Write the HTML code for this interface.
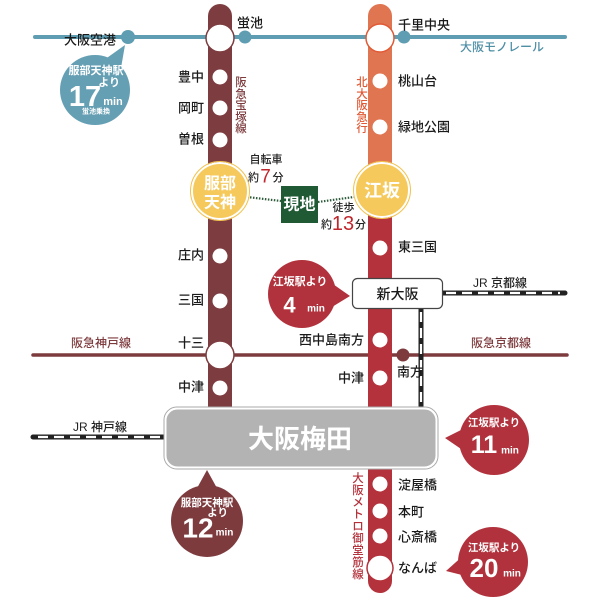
<!DOCTYPE html>
<html><head><meta charset="utf-8"><style>
html,body{margin:0;padding:0;background:#fff;}
svg{display:block;}
text{font-family:"Liberation Sans","Noto Sans CJK JP",sans-serif;}
.st{font-size:13px;font-weight:500;fill:#1a1a1a;}
.w{fill:#fff;font-weight:bold;}
</style></head><body>
<svg width="600" height="600" viewBox="0 0 600 600" xmlns="http://www.w3.org/2000/svg">
<rect width="600" height="600" fill="#fff"/>
<!-- monorail -->
<line x1="35" y1="37" x2="565" y2="37" stroke="#5f9db2" stroke-width="4" stroke-linecap="round"/>
<!-- hankyu kobe/kyoto -->
<line x1="33" y1="355" x2="567" y2="355" stroke="#7d3b3e" stroke-width="3.5" stroke-linecap="round"/>
<!-- JR kobe -->
<line x1="33" y1="437" x2="166" y2="437" stroke="#222" stroke-width="5" stroke-linecap="round"/>
<line x1="38" y1="437" x2="166" y2="437" stroke="#fff" stroke-width="2.2" stroke-dasharray="10 6"/>
<!-- JR kyoto -->
<line x1="443" y1="293" x2="565" y2="293" stroke="#222" stroke-width="5" stroke-linecap="round"/>
<line x1="446" y1="293" x2="560" y2="293" stroke="#fff" stroke-width="2.2" stroke-dasharray="10 6"/>
<line x1="421" y1="306" x2="421" y2="408" stroke="#222" stroke-width="5"/>
<line x1="421" y1="312" x2="421" y2="408" stroke="#fff" stroke-width="2.2" stroke-dasharray="10 6"/>
<!-- left line -->
<path d="M208 420 V16 A12 12 0 0 1 232 16 V420 Z" fill="#7d3d40"/>
<!-- right line -->
<path d="M368 190 V16 A12 12 0 0 1 392 16 V190 Z" fill="#e07552"/>
<path d="M368 190 V581 A12 12 0 0 0 392 581 V190 Z" fill="#b3323c"/>

<!-- monorail dots -->
<circle cx="128" cy="37" r="7" fill="#5f9db2"/>
<circle cx="245" cy="37" r="6.5" fill="#5f9db2"/>
<circle cx="404" cy="37" r="6.5" fill="#5f9db2"/>
<circle cx="403" cy="355" r="6.5" fill="#7d3b3e"/>

<!-- big station circles -->
<circle cx="220" cy="38" r="14" fill="#fff" stroke="#7d3d40" stroke-width="1.5"/>
<circle cx="380" cy="38" r="14" fill="#fff" stroke="#e05a35" stroke-width="1.5"/>
<circle cx="220" cy="355" r="14" fill="#fff" stroke="#7d3d40" stroke-width="1.5"/>
<circle cx="380" cy="568" r="13" fill="#fff" stroke="#b3323c" stroke-width="1.5"/>

<!-- small station circles -->
<g fill="#fff">
<circle cx="220" cy="77" r="7.5"/><circle cx="220" cy="108" r="7.5"/><circle cx="220" cy="140" r="7.5"/>
<circle cx="220" cy="256" r="7.5"/><circle cx="220" cy="301" r="7.5"/><circle cx="220" cy="388" r="7.5"/>
<circle cx="380" cy="81" r="7.5"/><circle cx="380" cy="127" r="7.5"/><circle cx="380" cy="248" r="7.5"/>
<circle cx="380" cy="340" r="7.5"/><circle cx="380" cy="378" r="7.5"/>
<circle cx="380" cy="484" r="7.5"/><circle cx="380" cy="511" r="7.5"/><circle cx="380" cy="536" r="7.5"/>
</g>

<!-- dotted connectors -->
<line x1="247" y1="197" x2="281" y2="201" stroke="#2d5a3a" stroke-width="2.2" stroke-dasharray="1.5 1.5"/>
<line x1="318" y1="202" x2="354" y2="197" stroke="#2d5a3a" stroke-width="2.2" stroke-dasharray="1.5 1.5"/>

<!-- yellow circles -->
<circle cx="220" cy="191" r="28" fill="#f5c95c" stroke="#fff" stroke-width="2"/>
<circle cx="220" cy="191" r="29.5" fill="none" stroke="#f2c24e" stroke-width="1"/>
<circle cx="382" cy="190" r="27" fill="#f5c95c" stroke="#fff" stroke-width="2"/>
<circle cx="382" cy="190" r="28.5" fill="none" stroke="#f2c24e" stroke-width="1"/>
<text x="220" y="184" class="w" font-size="16" text-anchor="middle" dominant-baseline="central">服部</text>
<text x="220" y="203" class="w" font-size="16" text-anchor="middle" dominant-baseline="central">天神</text>
<text x="382" y="191" class="w" font-size="18" text-anchor="middle" dominant-baseline="central">江坂</text>

<!-- genchi -->
<rect x="281" y="186" width="37" height="37" fill="#1f5a35"/>
<text x="299.5" y="205" class="w" font-size="16" text-anchor="middle" dominant-baseline="central">現地</text>

<!-- Umeda box -->
<rect x="164" y="407" width="274" height="62" rx="13" fill="none" stroke="#a8a8a8" stroke-width="1"/>
<rect x="165.5" y="408.5" width="271" height="59" rx="12" fill="#b3b3b3" stroke="#fff" stroke-width="2"/>
<text x="300" y="439" class="w" font-size="26" text-anchor="middle" dominant-baseline="central">大阪梅田</text>

<!-- Shin-Osaka box -->
<rect x="352.5" y="278.5" width="90" height="30" rx="5" fill="#fff" stroke="#444" stroke-width="1.2"/>
<text x="397.5" y="294" font-size="14" font-weight="500" fill="#1a1a1a" text-anchor="middle" dominant-baseline="central">新大阪</text>

<!-- bubbles -->
<g fill="#659fb3">
<circle cx="95" cy="90" r="35"/>
<polygon points="104,60 125,45 121,68"/>
</g>
<text x="96" y="71" class="w" font-size="11" text-anchor="middle" dominant-baseline="central">服部天神駅</text>
<text x="120" y="83" class="w" font-size="11" text-anchor="end" dominant-baseline="central">より</text>
<text x="85" y="97" class="w" font-size="29" text-anchor="middle" dominant-baseline="central">17</text>
<text x="113" y="102" class="w" font-size="11" text-anchor="middle" dominant-baseline="central">min</text>
<text x="96" y="112" class="w" font-size="7" text-anchor="middle" dominant-baseline="central">蛍池乗換</text>

<g fill="#b1323c">
<circle cx="302" cy="294" r="34"/>
<polygon points="330,282 350,296 332,307"/>
</g>
<text x="300" y="282" class="w" font-size="11" text-anchor="middle" dominant-baseline="central">江坂駅より</text>
<text x="289.5" y="305" class="w" font-size="22" text-anchor="middle" dominant-baseline="central">4</text>
<text x="316" y="309" class="w" font-size="10" text-anchor="middle" dominant-baseline="central">min</text>

<g fill="#b1323c">
<circle cx="494" cy="440" r="35"/>
<polygon points="465,428 445,438 464,451"/>
</g>
<text x="494" y="423" class="w" font-size="10.5" text-anchor="middle" dominant-baseline="central">江坂駅より</text>
<text x="484" y="445" class="w" font-size="25" text-anchor="middle" dominant-baseline="central">11</text>
<text x="510" y="451" class="w" font-size="10" text-anchor="middle" dominant-baseline="central">min</text>

<g fill="#7d3b3e">
<circle cx="207" cy="521" r="36"/>
<polygon points="196,490 207,470 218,490"/>
</g>
<text x="207" y="503" class="w" font-size="10.5" text-anchor="middle" dominant-baseline="central">服部天神駅</text>
<text x="228" y="513" class="w" font-size="10.5" text-anchor="end" dominant-baseline="central">より</text>
<text x="198" y="528" class="w" font-size="28" text-anchor="middle" dominant-baseline="central">12</text>
<text x="224.5" y="533" class="w" font-size="10" text-anchor="middle" dominant-baseline="central">min</text>

<g fill="#b1323c">
<circle cx="493" cy="562" r="35"/>
<polygon points="465,554 446,571 466,576"/>
</g>
<text x="494" y="548" class="w" font-size="10.5" text-anchor="middle" dominant-baseline="central">江坂駅より</text>
<text x="484" y="568" class="w" font-size="26" text-anchor="middle" dominant-baseline="central">20</text>
<text x="512" y="574" class="w" font-size="10" text-anchor="middle" dominant-baseline="central">min</text>

<!-- station labels -->
<g class="st" dominant-baseline="central">
<text x="116" y="40" text-anchor="end" class="st">大阪空港</text>
<text x="237" y="23" class="st">蛍池</text>
<text x="398" y="25" class="st">千里中央</text>
<text x="204" y="77" text-anchor="end" class="st">豊中</text>
<text x="204" y="108" text-anchor="end" class="st">岡町</text>
<text x="204" y="139" text-anchor="end" class="st">曽根</text>
<text x="204" y="255" text-anchor="end" class="st">庄内</text>
<text x="204" y="300" text-anchor="end" class="st">三国</text>
<text x="204" y="343" text-anchor="end" class="st">十三</text>
<text x="204" y="387" text-anchor="end" class="st">中津</text>
<text x="398" y="81" class="st">桃山台</text>
<text x="398" y="127" class="st">緑地公園</text>
<text x="398" y="247" class="st">東三国</text>
<text x="364" y="340" text-anchor="end" class="st">西中島南方</text>
<text x="364" y="378" text-anchor="end" class="st">中津</text>
<text x="397" y="372" class="st">南方</text>
<text x="398" y="485" class="st">淀屋橋</text>
<text x="398" y="512" class="st">本町</text>
<text x="398" y="537" class="st">心斎橋</text>
<text x="398" y="568" class="st">なんば</text>
</g>

<!-- line labels -->
<text x="460" y="47" font-size="12" font-weight="500" fill="#4f8fa6" dominant-baseline="central">大阪モノレール</text>
<text x="101" y="343" font-size="12" font-weight="500" fill="#7d3b3e" text-anchor="middle" dominant-baseline="central">阪急神戸線</text>
<text x="501" y="343" font-size="12" font-weight="500" fill="#7d3b3e" text-anchor="middle" dominant-baseline="central">阪急京都線</text>
<text x="100" y="427" font-size="12" font-weight="500" fill="#222" text-anchor="middle" dominant-baseline="central">JR 神戸線</text>
<text x="500" y="283" font-size="12" font-weight="500" fill="#222" text-anchor="middle" dominant-baseline="central">JR 京都線</text>

<!-- vertical line labels -->
<g font-size="11.5" font-weight="500" fill="#7d3b3e" text-anchor="middle" dominant-baseline="central">
<text x="241" y="83">阪</text><text x="241" y="95">急</text><text x="241" y="106">宝</text><text x="241" y="118">塚</text><text x="241" y="129">線</text>
</g>
<g font-size="11.5" font-weight="500" fill="#e05a35" text-anchor="middle" dominant-baseline="central">
<text x="362" y="83">北</text><text x="362" y="95">大</text><text x="362" y="106">阪</text><text x="362" y="118">急</text><text x="362" y="129">行</text>
</g>
<g font-size="11.5" font-weight="500" fill="#b3323c" text-anchor="middle" dominant-baseline="central">
<text x="358" y="479">大</text><text x="358" y="491">阪</text><text x="358" y="503">メ</text><text x="358" y="515">ト</text><text x="358" y="527">ロ</text><text x="358" y="539">御</text><text x="358" y="551">堂</text><text x="358" y="563">筋</text><text x="358" y="575">線</text>
</g>

<!-- travel time labels -->
<g font-size="11" font-weight="500" fill="#222" dominant-baseline="central">
<text x="266" y="160" text-anchor="middle">自転車</text>
<text x="253.5" y="178" text-anchor="middle">約</text>
<text x="278" y="178" text-anchor="middle">分</text>
<text x="343.5" y="208" text-anchor="middle">徒歩</text>
<text x="326.5" y="225" text-anchor="middle">約</text>
<text x="360.5" y="225" text-anchor="middle">分</text>
</g>
<text x="265.5" y="177" font-size="19" font-weight="500" fill="#c0272d" text-anchor="middle" dominant-baseline="central">7</text>
<text x="343" y="224" font-size="20" font-weight="500" fill="#c0272d" text-anchor="middle" dominant-baseline="central">13</text>
</svg>
</body></html>
